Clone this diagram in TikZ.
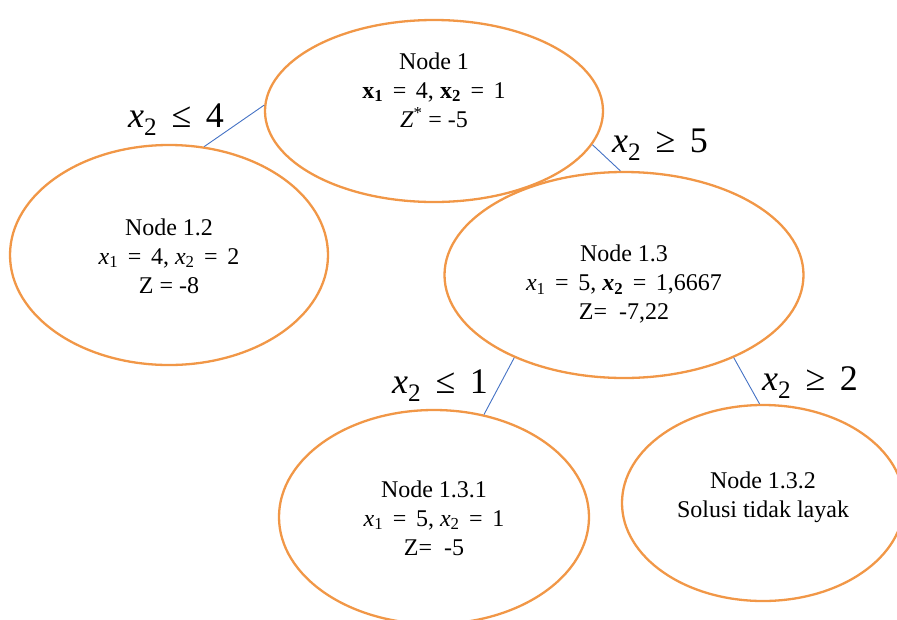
\documentclass[tikz,border=0pt]{standalone}
\usepackage{fontspec}
\setmainfont{Liberation Serif}
\usetikzlibrary{shapes.geometric}

\definecolor{ellorange}{RGB}{241,151,71}
\definecolor{linkblue}{RGB}{68,114,196}

% variables, set in the text font
\newcommand{\xv}[1]{\textit{x}\textsubscript{#1}}
\newcommand{\xb}[1]{\textbf{x}\textsubscript{\textbf{#1}}}
\newcommand{\xbi}[1]{\textbf{\textit{x}}\textsubscript{\textbf{#1}}}
\newcommand{\rel}[1]{\hspace{0.4em}#1\hspace{0.4em}}

\begin{document}
\begin{tikzpicture}[
    x=1pt, y=-1pt,
    bnode/.style={draw=ellorange, line width=2.3pt, ellipse, inner sep=0pt},
    btext/.style={align=center, inner sep=0pt, font=\fontsize{24}{29}\selectfont},
    link/.style={draw=linkblue, line width=0.9pt},
    cut/.style={font=\fontsize{36}{38}\selectfont}
]
\useasboundingbox (0,0) rectangle (897,619);

% ellipses
\node[bnode, minimum width=338pt, minimum height=182pt] (n1) at (434,111) {};
\node[bnode, minimum width=318pt, minimum height=220pt] (n12) at (169,255) {};
\node[bnode, minimum width=359pt, minimum height=206pt] (n13) at (624,275) {};
\node[bnode, minimum width=310pt, minimum height=214pt] (n131) at (434,517) {};
\node[bnode, minimum width=282pt, minimum height=196pt] (n132) at (763,503) {};

% texts
\node[btext] (t1) at (434,90)
    {Node 1\\\xb{1}\rel{=}4, \xb{2}\rel{=}1\\\textit{Z}\textsuperscript{*} = -5};
\node[btext] (t12) at (169,256)
    {Node 1.2\\\xv{1}\rel{=}4, \xv{2}\rel{=}2\\Z = -8};
\node[btext] (t13) at (624,284)
    {Node 1.3\\\xv{1}\rel{=}5, \xbi{2}\rel{=}1,6667\\Z=\ \ -7,22};
\node[btext] (t131) at (434,518)
    {Node 1.3.1\\\xv{1}\rel{=}5, \xv{2}\rel{=}1\\Z=\ \ -5};
\node[btext] (t132) at (763,497)
    {Node 1.3.2\\Solusi tidak layak};

\draw[link] (n1.178) -- (n12.72);
\draw[link] (n1.-12) -- (n13.92);
\draw[link] (n13.-143) -- (n131.64);
\draw[link] (n13.-37) -- (n132.92);

\node[cut] (c12) at (176,120) {\xv{2}\rel{≤}4};
\node[cut] (c13) at (660,145) {\xv{2}\rel{≥}5};
\node[cut] (c131) at (440,386) {\xv{2}\rel{≤}1};
\node[cut] (c132) at (810,383) {\xv{2}\rel{≥}2};
\end{tikzpicture}
\end{document}
